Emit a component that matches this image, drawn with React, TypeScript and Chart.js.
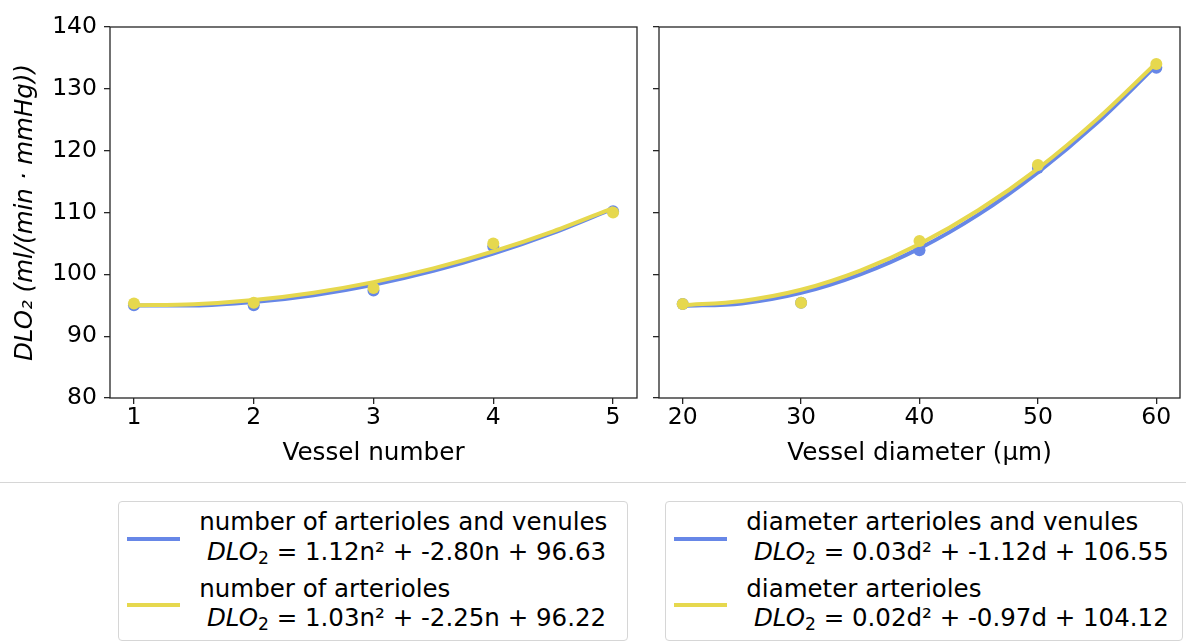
import React, { useEffect, useRef } from "react";
import { Chart, registerables } from "chart.js";

Chart.register(...registerables);

const BLUE = "rgb(103,135,231)";
const YELLOW = "rgb(230,216,78)";
const AXIS = "#262626";
const FONT = "'DejaVu Sans', 'Liberation Sans', sans-serif";

// ---- data: left panel (vessel number) ----
const vesselNumbers = [1, 2, 3, 4, 5];
const numberAllPoints = [95.0, 95.0, 97.4, 104.5, 110.2];
const numberArteriolePoints = [95.3, 95.4, 97.8, 105.0, 110.0];
const numberFitX = [1, 1.5, 2, 2.5, 3, 3.5, 4, 4.5, 5];
const numberAllFit = [94.95, 94.95, 95.51, 96.63, 98.31, 100.55, 103.35, 106.71, 110.63];
const numberArterioleFit = [95.0, 95.16, 95.84, 97.03, 98.74, 100.96, 103.7, 106.95, 110.72];
const numberTicks = [1, 2, 3, 4, 5];

// ---- data: right panel (vessel diameter) ----
const vesselDiameters = [20, 30, 40, 50, 60];
const diameterAllPoints = [95.2, 95.4, 103.9, 117.2, 133.4];
const diameterArteriolePoints = [95.2, 95.4, 105.4, 117.7, 134.0];
const diameterFitX = [20, 25, 30, 35, 40, 45, 50, 55, 60];
const diameterAllFit = [94.9, 95.3, 97.0, 100.0, 104.2, 109.7, 116.5, 124.5, 133.8];
const diameterArterioleFit = [95.0, 95.7, 97.5, 100.6, 104.9, 110.4, 117.1, 125.1, 134.2];
const diameterTicks = [20, 30, 40, 50, 60];

const yTicks = [80, 90, 100, 110, 120, 130, 140];

// ---- legend text ----
const numberLegendLabels = ["number of arterioles and venules", "number of arterioles"];
const numberLegendEquations = ["= 1.12n² + -2.80n + 96.63", "= 1.03n² + -2.25n + 96.22"];
const diameterLegendLabels = ["diameter arterioles and venules", "diameter arterioles"];
const diameterLegendEquations = ["= 0.03d² + -1.12d + 106.55", "= 0.02d² + -0.97d + 104.12"];

const toXY = (xs: number[], ys: number[]) => xs.map((x, i) => ({ x, y: ys[i] }));

const framePlugin = {
  id: "frame",
  afterDraw(chart: any) {
    const { ctx, chartArea: a } = chart;
    ctx.save();
    ctx.strokeStyle = AXIS;
    ctx.lineWidth = 1.3;
    ctx.strokeRect(a.left, a.top, a.right - a.left, a.bottom - a.top);
    ctx.restore();
  },
};

interface PanelProps {
  left: number;
  width: number;
  height: number;
  yAxisWidth: number;
  rightPad: number;
  xMin: number;
  xMax: number;
  xTicks: number[];
  xTitle: string;
  showYLabels: boolean;
  pointsX: number[];
  allPoints: number[];
  arteriolePoints: number[];
  fitX: number[];
  allFit: number[];
  arterioleFit: number[];
}

function Panel(p: PanelProps) {
  const ref = useRef<HTMLCanvasElement | null>(null);
  useEffect(() => {
    if (!ref.current) return;
    const chart = new Chart(ref.current, {
      type: "scatter",
      data: {
        datasets: [
          {
            label: "arterioles fit",
            data: toXY(p.fitX, p.arterioleFit),
            showLine: true,
            borderColor: YELLOW,
            backgroundColor: YELLOW,
            borderWidth: 4,
            pointRadius: 0,
            cubicInterpolationMode: "monotone",
            order: 1,
          } as any,
          {
            label: "arterioles",
            data: toXY(p.pointsX, p.arteriolePoints),
            showLine: false,
            backgroundColor: YELLOW,
            borderColor: YELLOW,
            borderWidth: 0,
            pointRadius: 6,
            order: 2,
          },
          {
            label: "arterioles and venules fit",
            data: toXY(p.fitX, p.allFit),
            showLine: true,
            borderColor: BLUE,
            backgroundColor: BLUE,
            borderWidth: 4,
            pointRadius: 0,
            cubicInterpolationMode: "monotone",
            order: 3,
          } as any,
          {
            label: "arterioles and venules",
            data: toXY(p.pointsX, p.allPoints),
            showLine: false,
            backgroundColor: BLUE,
            borderColor: BLUE,
            borderWidth: 0,
            pointRadius: 6,
            order: 4,
          },
        ],
      },
      options: {
        animation: false,
        responsive: false,
        devicePixelRatio: 1,
        layout: { padding: { left: 0, top: 27, right: p.rightPad, bottom: 0 } },
        plugins: { legend: { display: false }, tooltip: { enabled: false } },
        scales: {
          x: {
            type: "linear",
            min: p.xMin,
            max: p.xMax,
            afterBuildTicks: (s: any) => {
              s.ticks = p.xTicks.map((v) => ({ value: v }));
            },
            afterFit: (s: any) => {
              s.height = 82;
            },
            grid: {
              display: true,
              drawOnChartArea: false,
              drawTicks: true,
              tickLength: 6,
              color: AXIS,
              lineWidth: 1.3,
            },
            border: { display: false },
            ticks: {
              color: "#000",
              font: { family: FONT, size: 23.5 },
              padding: 0,
              maxRotation: 0,
              autoSkip: false,
            },
            title: {
              display: true,
              text: p.xTitle,
              color: "#000",
              font: { family: FONT, size: 24.7 },
              padding: { top: 0, bottom: 12 },
            },
          },
          y: {
            type: "linear",
            min: 80,
            max: 140,
            afterBuildTicks: (s: any) => {
              s.ticks = yTicks.map((v) => ({ value: v }));
            },
            afterFit: (s: any) => {
              s.width = p.yAxisWidth;
            },
            grid: {
              display: true,
              drawOnChartArea: false,
              drawTicks: true,
              tickLength: 6,
              color: AXIS,
              lineWidth: 1.3,
            },
            border: { display: false },
            ticks: {
              display: p.showYLabels,
              color: "#000",
              font: { family: FONT, size: 23.5 },
              padding: 7,
            },
            title: {
              display: p.showYLabels,
              text: "DLO₂ (ml/(min · mmHg))",
              color: "#000",
              font: { family: FONT, size: 24.5, style: "italic" },
              padding: { top: 11, bottom: 0 },
            },
          },
        },
      },
      plugins: [framePlugin],
    });
    return () => chart.destroy();
  }, []);
  return (
    <canvas
      ref={ref}
      width={p.width}
      height={p.height}
      style={{ position: "absolute", left: p.left, top: 0, width: p.width, height: p.height }}
    />
  );
}

interface LegendProps {
  boxLeft: number;
  boxRight: number;
  labels: string[];
  equations: string[];
}

function LegendBox({ boxLeft, boxRight, labels, equations }: LegendProps) {
  const sampleLeft = boxLeft + 9;
  const textLeft = sampleLeft + 72.3;
  const colors = [BLUE, YELLOW];
  const labelTops = [506.5, 573.5];
  const eqTops = [536.5, 602.5];
  const sampleYs = [539, 605];
  const textStyle: React.CSSProperties = {
    position: "absolute",
    fontFamily: FONT,
    fontSize: "24.5px",
    lineHeight: "30px",
    whiteSpace: "nowrap",
    color: "#000",
  };
  return (
    <>
      <div
        style={{
          position: "absolute",
          left: boxLeft,
          top: 501,
          width: boxRight - boxLeft,
          height: 140,
          boxSizing: "border-box",
          border: "1px solid #d6d6d6",
          borderRadius: 4,
          background: "#fff",
        }}
      />
      {labels.map((lab, i) => (
        <React.Fragment key={i}>
          <div
            style={{
              position: "absolute",
              left: sampleLeft,
              top: sampleYs[i] - 2,
              width: 53,
              height: 4,
              background: colors[i],
            }}
          />
          <div style={{ ...textStyle, left: textLeft, top: labelTops[i] }}>{lab}</div>
          <div style={{ ...textStyle, left: textLeft + 7.6, top: eqTops[i] }}>
            <span style={{ fontStyle: "italic" }}>DLO</span>
            <span style={{ fontSize: "0.7em", verticalAlign: "-0.25em", lineHeight: 0 }}>2</span>{" "}
            {equations[i]}
          </div>
        </React.Fragment>
      ))}
    </>
  );
}

export default function App() {
  return (
    <div
      style={{
        position: "absolute",
        left: 0,
        top: 0,
        width: 1186,
        height: 642,
        background: "#fff",
        overflow: "hidden",
      }}
    >
      <Panel
        left={0}
        width={648}
        height={480}
        yAxisWidth={110}
        rightPad={11}
        xMin={0.8}
        xMax={5.2}
        xTicks={numberTicks}
        xTitle="Vessel number"
        showYLabels={true}
        pointsX={vesselNumbers}
        allPoints={numberAllPoints}
        arteriolePoints={numberArteriolePoints}
        fitX={numberFitX}
        allFit={numberAllFit}
        arterioleFit={numberArterioleFit}
      />
      <Panel
        left={648}
        width={538}
        height={480}
        yAxisWidth={11}
        rightPad={2}
        xMin={18}
        xMax={62}
        xTicks={diameterTicks}
        xTitle="Vessel diameter (μm)"
        showYLabels={false}
        pointsX={vesselDiameters}
        allPoints={diameterAllPoints}
        arteriolePoints={diameterArteriolePoints}
        fitX={diameterFitX}
        allFit={diameterAllFit}
        arterioleFit={diameterArterioleFit}
      />
      <div
        style={{
          position: "absolute",
          left: 0,
          top: 482,
          width: 1186,
          height: 1,
          background: "#d6d6d6",
        }}
      />
      <LegendBox
        boxLeft={118}
        boxRight={628}
        labels={numberLegendLabels}
        equations={numberLegendEquations}
      />
      <LegendBox
        boxLeft={665}
        boxRight={1183}
        labels={diameterLegendLabels}
        equations={diameterLegendEquations}
      />
    </div>
  );
}
